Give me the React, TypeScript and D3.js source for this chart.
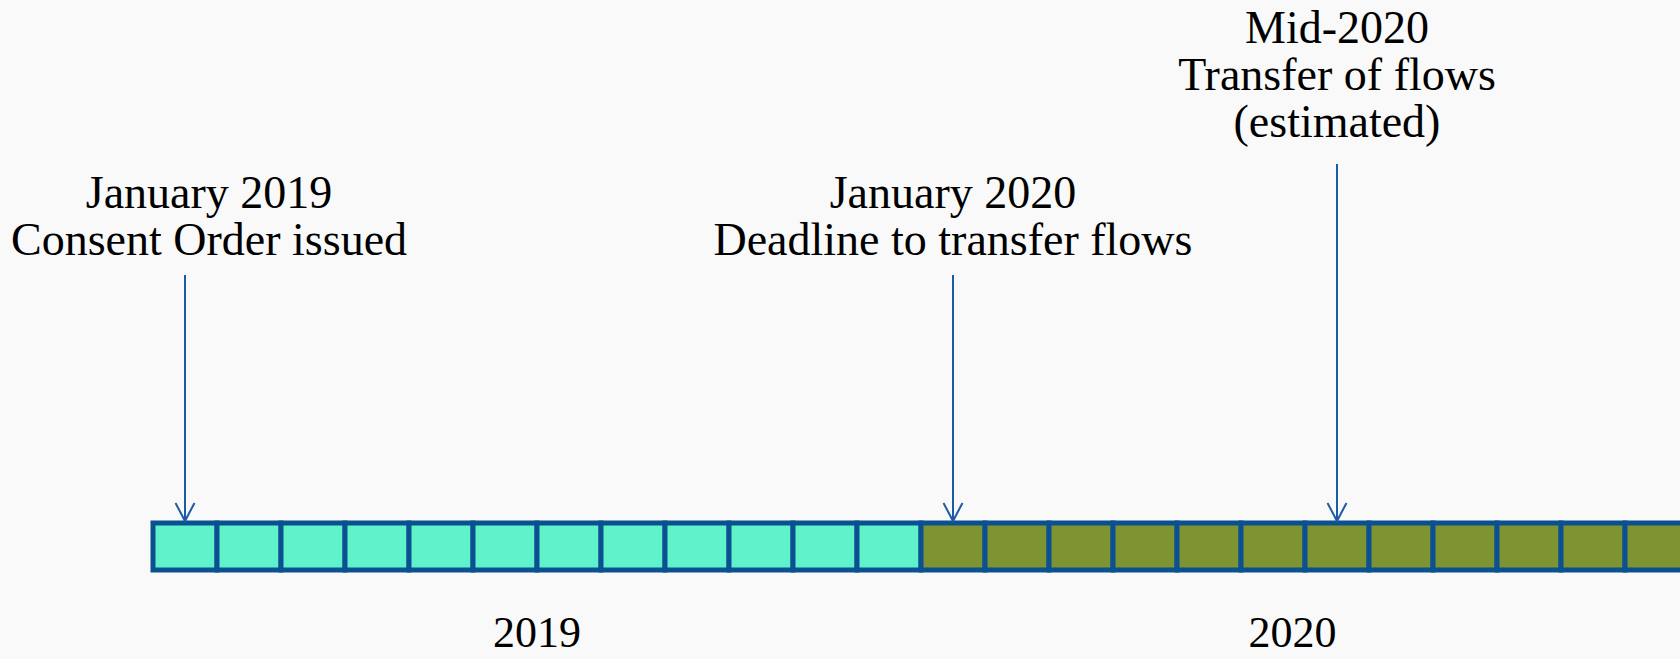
import React, { useEffect, useRef } from "react";
import * as d3 from "d3";

// months shown on the timeline, and which phase each one falls in
const months = [
  "2019-01", "2019-02", "2019-03", "2019-04", "2019-05", "2019-06",
  "2019-07", "2019-08", "2019-09", "2019-10", "2019-11", "2019-12",
  "2020-01", "2020-02", "2020-03", "2020-04", "2020-05", "2020-06",
  "2020-07", "2020-08", "2020-09", "2020-10", "2020-11", "2020-12"
];
const years = ["2019", "2020"];

// milestones: month pointed at, text lines, and label tier (0 = low, 1 = high)
const eventMonths = ["2019-01", "2020-01", "2020-07"];
const eventLabels = [
  ["January 2019", "Consent Order issued"],
  ["January 2020", "Deadline to transfer flows"],
  ["Mid-2020", "Transfer of flows", "(estimated)"]
];
const eventTiers = [0, 0, 1];

const W = 1680;
const H = 659;
const FONT = "'Liberation Serif', 'Times New Roman', serif";

const Timeline = () => {
  const ref = useRef<SVGSVGElement>(null);

  useEffect(() => {
    const svg = d3.select(ref.current);
    svg.selectAll("*").remove();

    svg.append("rect").attr("width", W).attr("height", H).attr("fill", "#f9f9f9");

    const x = d3.scaleBand().domain(months).range([153, 1689]).padding(0);
    const color = d3.scaleOrdinal<string, string>().domain(years).range(["#60f2cb", "#7e9433"]);
    // y of the last text line, and of the arrow's tail, for each label tier
    const tierY = d3.scaleOrdinal<number, number>().domain([0, 1]).range([255, 137]);
    const tierArrow = d3.scaleOrdinal<number, number>().domain([0, 1]).range([275, 164]);
    const lineGap = 47;
    const barTop = 523;
    const barH = 47;
    const stroke = "#0b5192";

    // bar of month cells
    svg.append("g")
      .selectAll("rect")
      .data(months)
      .join("rect")
      .attr("x", d => x(d)!)
      .attr("y", barTop)
      .attr("width", x.bandwidth())
      .attr("height", barH)
      .attr("fill", d => color(d.slice(0, 4)))
      .attr("stroke", stroke)
      .attr("stroke-width", 5);

    // year labels, centred on the visible part of each year
    years.forEach(y => {
      const ms = months.filter(m => m.startsWith(y));
      const x0 = x(ms[0])!;
      const end = x(ms[ms.length - 1])! + x.bandwidth();
      const x1 = Math.min(W, end);
      svg.append("text")
        .attr("x", (x0 + x1) / 2 - (x1 < end ? 8 : 0))
        .attr("y", 647)
        .attr("text-anchor", "middle")
        .attr("font-family", FONT)
        .attr("font-size", 44)
        .attr("fill", "#000")
        .text(y);
    });

    // milestone arrows and labels
    eventMonths.forEach((m, i) => {
      const cx = x(m)! + x.bandwidth() / 2;
      const lines = eventLabels[i];
      const lastY = tierY(eventTiers[i]);
      const tip = barTop - 2;
      const g = svg.append("g");

      const texts = lines.map((t, j) =>
        g.append("text")
          .attr("y", lastY - (lines.length - 1 - j) * lineGap)
          .attr("text-anchor", "middle")
          .attr("font-family", FONT)
          .attr("font-size", 46)
          .attr("fill", "#000")
          .text(t)
      );
      const maxW = d3.max(texts, t => (t.node() as SVGTextElement).getComputedTextLength()) || 0;
      const tx = Math.max(cx, 11 + maxW / 2);
      texts.forEach(t => t.attr("x", tx));

      g.append("line")
        .attr("x1", cx).attr("x2", cx)
        .attr("y1", tierArrow(eventTiers[i])).attr("y2", tip)
        .attr("stroke", "#1a5ca6")
        .attr("stroke-width", 2);
      g.append("polyline")
        .attr("points", `${cx - 9.5},${tip - 18} ${cx},${tip} ${cx + 9.5},${tip - 18}`)
        .attr("fill", "none")
        .attr("stroke", "#1a5ca6")
        .attr("stroke-width", 2);
    });
  }, []);

  return <svg ref={ref} width={W} height={H} style={{ display: "block" }} />;
};

export default function App() {
  return (
    <div style={{ position: "fixed", left: 0, top: 0, width: W, height: H, overflow: "hidden" }}>
      <Timeline />
    </div>
  );
}
